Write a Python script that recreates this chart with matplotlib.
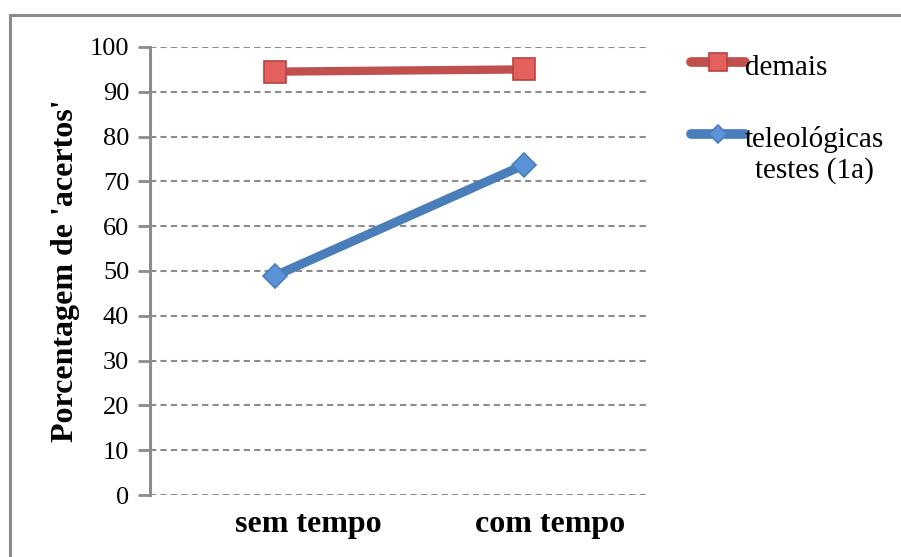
import matplotlib
matplotlib.use("Agg")
import matplotlib.pyplot as plt
import matplotlib.transforms as mtransforms
import numpy as np
from matplotlib.patches import Rectangle
from matplotlib.legend_handler import HandlerLine2D

categories = ["sem tempo", "com tempo"]
demais = [94.5, 95.0]
teleologicas = [48.9, 73.7]
yticks = [0, 10, 20, 30, 40, 50, 60, 70, 80, 90, 100]

serif = ["Liberation Serif", "DejaVu Serif"]
plt.rcParams['font.family'] = serif


class ShiftedHandler(HandlerLine2D):
    # move the legend sample up a bit (first line of a two-line label)
    def __init__(self, shift=0, **kw):
        super().__init__(**kw)
        self.shift = shift

    def create_artists(self, legend, orig_handle, xdescent, ydescent, width,
                       height, fontsize, trans):
        arts = super().create_artists(legend, orig_handle, xdescent, ydescent,
                                      width, height, fontsize, trans)
        for a in arts:
            a.set_ydata(np.asarray(a.get_ydata()) + self.shift)
        return arts


fig = plt.figure(figsize=(9.01, 5.57), dpi=100)
# outer chart border
fig.patches.append(Rectangle((10 / 901, -0.1), 1.1, 1 - 15 / 557 + 0.1,
                             transform=fig.transFigure, fill=False,
                             edgecolor="#8c8c8c", linewidth=2.2))

ax = fig.add_axes([150 / 901, 1 - 495 / 557, 499 / 901, 448 / 557])
x = [0, 1]
l1, = ax.plot(x, demais, color="#C0504D", linewidth=6, marker="s", markersize=16,
              markerfacecolor="#E3605D", markeredgecolor="#B84440", markeredgewidth=1.2,
              label="demais", solid_capstyle="round")
l2, = ax.plot(x, teleologicas, color="#4A7EBB", linewidth=6.5, marker="D", markersize=12,
              markerfacecolor="#5A93D8", markeredgecolor="#4A7EBB", markeredgewidth=1.2,
              label="teleológicas\ntestes (1a)", solid_capstyle="round")

ax.set_xlim(-0.5, 1.5)
ax.set_ylim(0, 100)
ax.set_yticks(yticks)
ax.set_xticks(x)
ax.set_xticklabels(categories, fontsize=23, fontweight="bold")
ax.tick_params(axis="x", length=0, pad=11)
# category labels sit a little right of the points in the original
for lab, dx in zip(ax.get_xticklabels(), [34, 26]):
    lab.set_transform(lab.get_transform() +
                      mtransforms.ScaledTranslation(dx / 100, 0, fig.dpi_scale_trans))
ax.tick_params(axis="y", length=9, width=2, color="#8c8c8c", labelsize=19, pad=6)
ax.grid(axis="y", linestyle=(0, (3, 2)), color="#8c8c8c", linewidth=1.5)
ax.set_axisbelow(True)
for s in ["top", "right", "bottom"]:
    ax.spines[s].set_visible(False)
ax.spines["left"].set_color("#8c8c8c")
ax.spines["left"].set_linewidth(2.2)
ax.set_ylabel("Porcentagem de 'acertos'", fontsize=23, fontweight="bold", labelpad=7)

leg = fig.legend(handles=[l1, l2], loc="upper left",
                 bbox_to_anchor=(679 / 901, 1 - 43 / 557),
                 frameon=False, fontsize=21, handlelength=1.85, handletextpad=0.0,
                 labelspacing=1.55, borderaxespad=0, markerscale=0.8,
                 handler_map={l1: ShiftedHandler(shift=2),
                              l2: ShiftedHandler(shift=15)})
for t in leg.get_texts():
    t.set_multialignment("center")
for h in leg.legend_handles:
    h.set_linewidth(7)

fig.savefig("out.png", dpi=100)
